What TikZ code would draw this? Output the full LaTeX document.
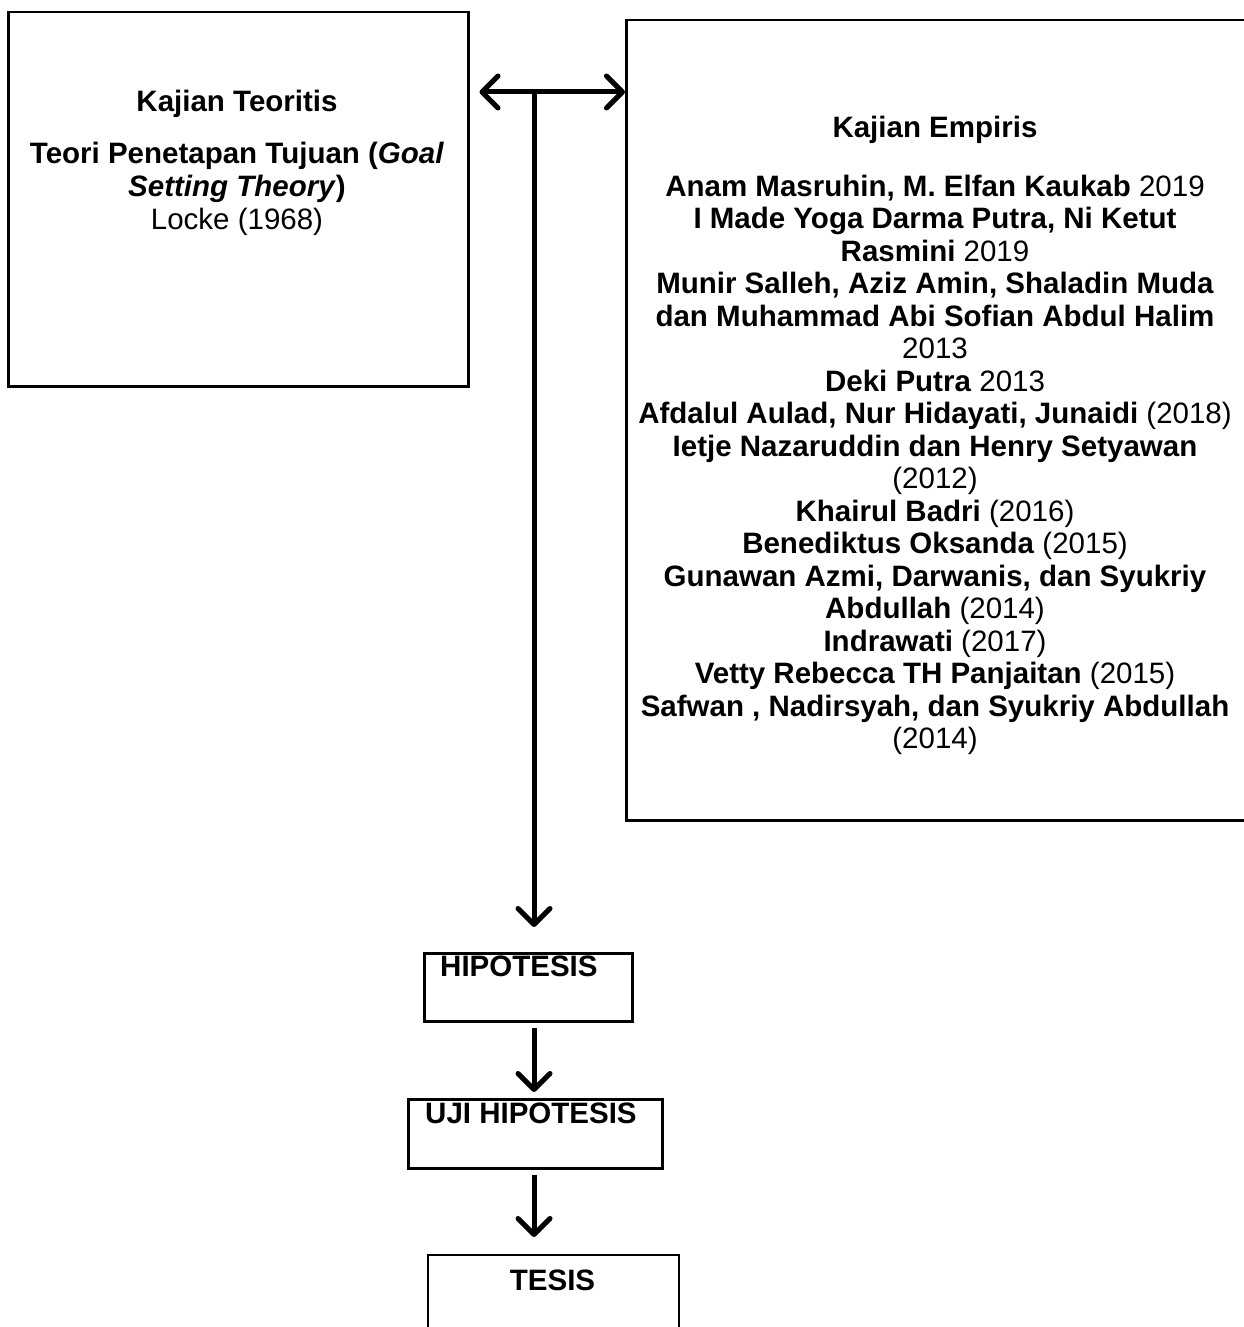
\documentclass[tikz,border=0pt]{standalone}
\usepackage{fontspec}
\setmainfont{Liberation Sans}
\usetikzlibrary{arrows.meta}
\begin{document}
\begin{tikzpicture}[x=1pt,y=-1pt,
  box/.style={draw, line width=2.5pt, inner sep=0pt},
  thinbox/.style={draw, line width=1.5pt, inner sep=0pt},
  txt/.style={font=\fontsize{29.5}{32.5}\selectfont, inner sep=0pt, anchor=base},
  arr/.style={line width=5pt, -{Straight Barb[length=16pt,width=32pt,round]}},
  darr/.style={line width=5pt, {Straight Barb[length=16pt,width=32pt,round]}-{Straight Barb[length=16pt,width=32pt,round]}}]
\useasboundingbox (0,0) rectangle (1244,1327);

% boxes
\node[box, minimum width=460pt, minimum height=374pt, anchor=north west] (teo) at (7,11) {};
\node[box, minimum width=625pt, minimum height=800pt, anchor=north west] (emp) at (625,19) {};
\node[box, minimum width=208pt, minimum height=68pt, anchor=north west] (hip) at (423,952) {};
\node[box, minimum width=254pt, minimum height=69pt, anchor=north west] (uji) at (407,1098) {};
\node[thinbox, minimum width=251pt, minimum height=100pt, anchor=north west] (tes) at (427,1254) {};

% left box text
\node[txt] (t1) at (237,112) {\textbf{Kajian Teoritis}};
\node[txt] (t2) at (237,163) {\textbf{Teori Penetapan Tujuan (\textit{Goal}}};
\node[txt] (t3) at (237,196) {\textbf{\textit{Setting Theory})}};
\node[txt] (t4) at (237,229) {Locke (1968)};

% right box text
\node[txt] (e0) at (935,138) {\textbf{Kajian Empiris}};
\foreach \line [count=\i] in {
  {\textbf{Anam Masruhin, M. Elfan Kaukab} 2019},
  {\textbf{I Made Yoga Darma Putra, Ni Ketut}},
  {\textbf{Rasmini} 2019},
  {\textbf{Munir Salleh, Aziz Amin, Shaladin Muda}},
  {\textbf{dan Muhammad Abi Sofian Abdul Halim}},
  {2013},
  {\textbf{Deki Putra} 2013},
  {\textbf{Afdalul Aulad, Nur Hidayati, Junaidi} (2018)},
  {\textbf{Ietje Nazaruddin dan Henry Setyawan}},
  {(2012)},
  {\textbf{Khairul Badri} (2016)},
  {\textbf{Benediktus Oksanda} (2015)},
  {\textbf{Gunawan Azmi, Darwanis, dan Syukriy}},
  {\textbf{Abdullah} (2014)},
  {\textbf{Indrawati} (2017)},
  {\textbf{Vetty Rebecca TH Panjaitan} (2015)},
  {\textbf{Safwan , Nadirsyah, dan Syukriy Abdullah}},
  {(2014)}}
{
  \node[txt] (e\i) at (935,{196+(\i-1)*32.5}) {\line};
}

% lower boxes text
\node[txt, anchor=base west] (h1) at (440,976) {\textbf{HIPOTESIS}};
\node[txt, anchor=base west] (u1) at (425,1123) {\textbf{UJI HIPOTESIS}};
\node[txt] (s1) at (552.5,1290) {\textbf{TESIS}};

% connectors
\coordinate (j) at (534,92);
\draw[darr] (teo.east |- j) ++(10,0) coordinate (la) -- (emp.west |- j);
\draw[arr] (j) -- (534,927) coordinate (vb);
\draw[arr] (hip.south -| j) ++(0,5) -- (534,1092);
\draw[arr] (uji.south -| j) ++(0,5) -- (534,1237);
\end{tikzpicture}
\end{document}
